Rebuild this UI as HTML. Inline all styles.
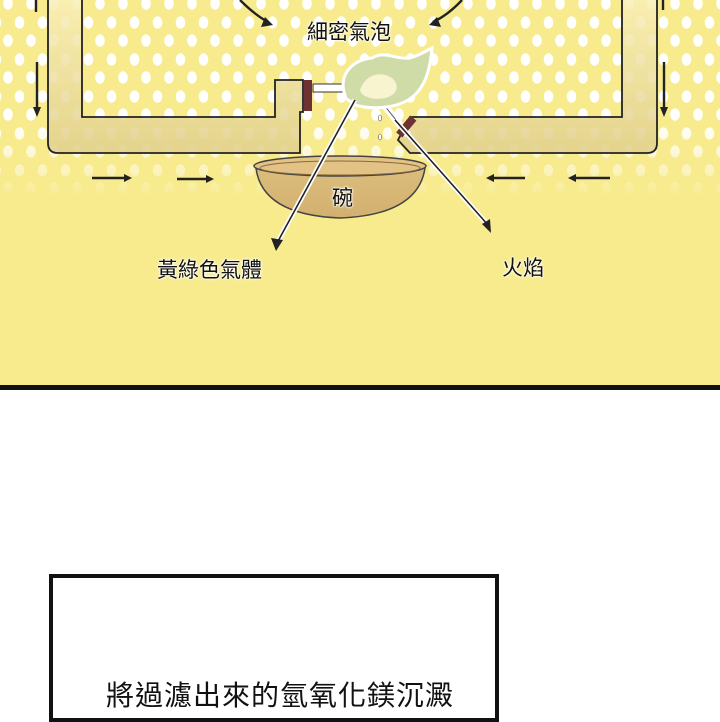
<!DOCTYPE html>
<html><head><meta charset="utf-8"><style>
html,body{margin:0;padding:0;width:720px;height:700px;overflow:hidden;background:#fff;font-family:"Liberation Sans","Noto Sans CJK TC",sans-serif}
#panel{position:absolute;left:0;top:0;width:720px;height:386px;background:#f8eb8d;overflow:hidden}
#dots{position:absolute;left:0;top:0;width:720px;height:200px;
background-image:radial-gradient(ellipse 5px 6.5px at 50% 50%,#fff 90%,transparent 100%),radial-gradient(ellipse 5px 6.5px at 50% 50%,#fff 90%,transparent 100%);
background-size:23px 37px,23px 37px;background-position:8px 4px,19.5px 22px;
-webkit-mask-image:linear-gradient(#000 0,#000 120px,rgba(0,0,0,.5) 165px,transparent 198px);mask-image:linear-gradient(#000 0,#000 120px,rgba(0,0,0,.5) 165px,transparent 198px)}
#line{position:absolute;left:0;top:385px;width:720px;height:5px;background:#111}
#box{position:absolute;left:49px;top:574px;width:442px;height:140px;border:4px solid #111}
#cap{position:absolute;left:106px;top:674px;font-size:28px;letter-spacing:1px;white-space:nowrap;color:#111}
.lbl{position:absolute;font-size:21px;color:#111;white-space:nowrap;text-shadow:0 0 2px #fff,0 0 2px #fff,0 0 3px #fff}
</style></head><body>
<div id="panel">
<div id="dots"></div>
<svg width="720" height="386" style="position:absolute;left:0;top:0">
<defs>
<linearGradient id="fr" x1="0" y1="0" x2="0" y2="1"><stop offset="0" stop-color="#faf0b8"/><stop offset="1" stop-color="#e0cf8c"/></linearGradient>
<linearGradient id="bw" x1="0" y1="0" x2="0" y2="1"><stop offset="0" stop-color="#dcbd7c"/><stop offset="1" stop-color="#d2b070"/></linearGradient>
</defs>
<path d="M48,-5 V143 Q48,153 58,153 H300 V112 H303 V80 H275 V117 H82 V-5 Z" fill="url(#fr)" fill-opacity=".85" stroke="#222" stroke-width="1.8"/>
<path d="M657,-5 V143 Q657,153 647,153 H410 L398,140 L410,117 H622 V-5 Z" fill="url(#fr)" fill-opacity=".85" stroke="#222" stroke-width="1.8"/>
<rect x="313" y="84" width="34" height="8" fill="#fff" stroke="#333" stroke-width="1"/>
<rect x="304" y="80" width="8" height="31" fill="#6e3232"/>
<path d="M380,100 L408,135" stroke="#fff" stroke-width="7"/>
<path d="M380,100 L408,135" stroke="#555" stroke-width="1"/>
<rect x="396" y="124" width="22" height="8" fill="#6e3232" transform="rotate(-50 405 128)"/>
<path d="M345,95 C338,75 352,60 372,58 C385,50 395,60 410,58 C420,55 428,50 432,48 C430,70 425,90 408,100 C395,108 372,110 355,105 C350,100 345,100 345,95Z" fill="#cfdca7" stroke="#fff" stroke-width="3"/>
<path d="M360,90 C365,75 380,70 392,78 C400,85 398,95 385,98 C375,100 362,98 360,90Z" fill="#f8f4d0"/>
<ellipse cx="380" cy="118" rx="1.5" ry="3" fill="#fff" stroke="#555" stroke-width=".6"/>
<ellipse cx="380" cy="137" rx="1.5" ry="3" fill="#fff" stroke="#555" stroke-width=".6"/>
<path d="M256,168 Q262,215 340,218 Q418,215 425,168 Z" fill="url(#bw)" stroke="#444" stroke-width="1.5"/>
<ellipse cx="340" cy="166" rx="86" ry="10" fill="#e2c385" stroke="#444" stroke-width="1.5"/>
<ellipse cx="340" cy="168" rx="80" ry="7" fill="none" stroke="#8a6a3a" stroke-width="1"/>
<g stroke="#222" stroke-width="2.4" fill="none">
<path d="M36,0 V12"/><path d="M663,0 V10"/>
<path d="M37,62 V110"/><path d="M664,62 V110"/>
<path d="M240,0 Q255,15 268,22"/><path d="M462,0 Q448,15 433,22"/>
<path d="M92,178 H128"/><path d="M177,179 H210"/>
<path d="M490,178 H525"/><path d="M572,178 H610"/>
</g>
<g fill="#222">
<path d="M265,17 L273,25 L261,27Z"/><path d="M437,17 L429,25 L441,27Z"/>
<path d="M33,107 L37,117 L41,107Z"/><path d="M660,107 L664,117 L668,107Z"/>
<path d="M124,174 L132,178 L124,182Z"/><path d="M206,175 L214,179 L206,183Z"/>
<path d="M494,174 L486,178 L494,182Z"/><path d="M576,174 L568,178 L576,182Z"/>
</g>
<g stroke="#fff" stroke-width="5" fill="none"><path d="M355,100 L277,243"/><path d="M395,120 L488,225"/></g>
<g stroke="#222" stroke-width="1.6" fill="none"><path d="M355,100 L277,243"/><path d="M395,120 L488,225"/></g>
<path d="M271,238 L276,251 L283,240Z" fill="#222"/><path d="M482,224 L491,233 L490,219Z" fill="#222"/>
</svg>
<div class="lbl" style="left:307px;top:16px">細密氣泡</div>
<div class="lbl" style="left:332px;top:182px">碗</div>
<div class="lbl" style="left:157px;top:254px">黃綠色氣體</div>
<div class="lbl" style="left:502px;top:252px">火焰</div>
</div>
<div id="line"></div>
<div id="box"></div>
<div id="cap">將過濾出來的氫氧化鎂沉澱</div>
</body></html>
